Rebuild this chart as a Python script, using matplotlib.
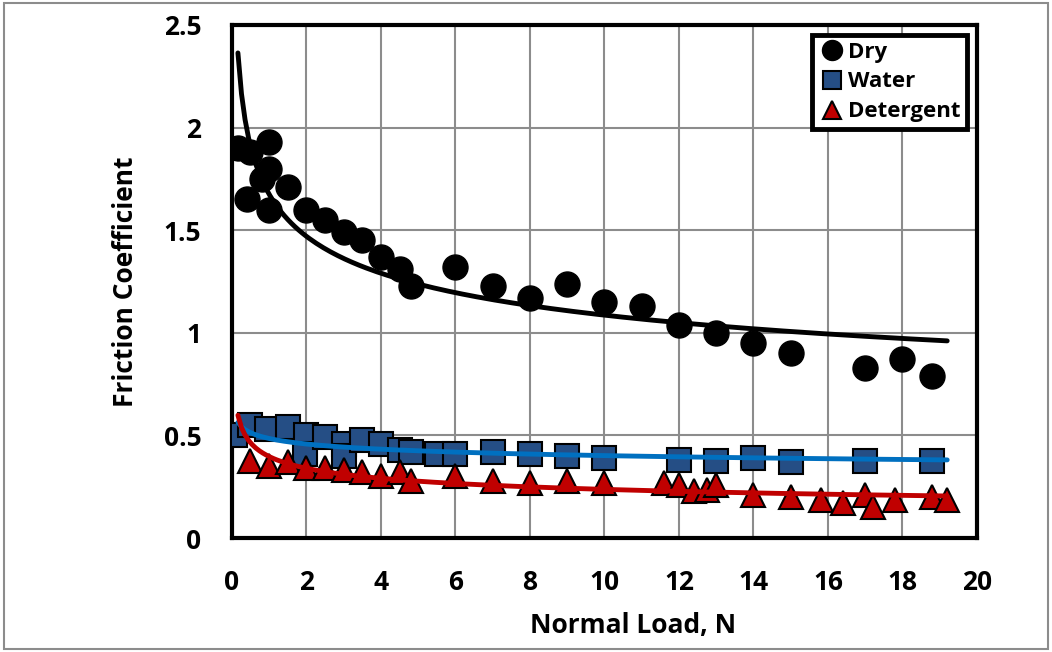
import numpy as np
import matplotlib.pyplot as plt
from matplotlib.patches import Rectangle

plt.rcParams['font.family'] = ['Open Sans', 'DejaVu Sans']
plt.rcParams['font.weight'] = 'bold'

# data
dry_x = [0.16, 0.48, 1.0, 1.0, 0.8, 0.4, 1.5, 1.0, 2.0, 2.5, 3.0, 3.5, 4.0, 4.5,
         4.8, 6, 7, 8, 9, 10, 11, 12, 13, 14, 15, 17, 18, 18.8]
dry_y = [1.90, 1.88, 1.93, 1.80, 1.75, 1.65, 1.71, 1.60, 1.60, 1.55, 1.49, 1.45,
         1.37, 1.31, 1.23, 1.32, 1.23, 1.17, 1.24, 1.15, 1.13, 1.04, 1.00, 0.95,
         0.90, 0.83, 0.87, 0.79]

water_x = [0.08, 0.48, 0.94, 1.5, 2.0, 1.96, 2.5, 3.0, 3.0, 3.5, 4.0, 4.5, 4.8,
           5.5, 6.0, 7, 8, 9, 10, 12, 13, 14, 15, 17, 18.8]
water_y = [0.50, 0.55, 0.53, 0.54, 0.50, 0.41, 0.49, 0.46, 0.40, 0.48, 0.46, 0.43,
           0.42, 0.41, 0.41, 0.42, 0.41, 0.40, 0.39, 0.38, 0.375, 0.39, 0.37,
           0.375, 0.375]

det_x = [0.48, 1.0, 1.5, 2.0, 2.5, 3.0, 3.5, 4.0, 4.5, 4.8, 6, 7, 8, 9, 10, 11.6,
         12.0, 12.4, 12.75, 13.0, 14, 15, 15.8, 16.4, 17.0, 17.2, 17.8, 18.8, 19.2]
det_y = [0.375, 0.35, 0.37, 0.34, 0.34, 0.33, 0.32, 0.30, 0.32, 0.28, 0.30, 0.28,
         0.27, 0.28, 0.27, 0.27, 0.26, 0.23, 0.235, 0.26, 0.21, 0.20, 0.185, 0.17,
         0.21, 0.15, 0.185, 0.20, 0.185]


def power_fit(x, y, xs):
    # same as an Excel power trendline: linear fit in log-log space
    b, ln_a = np.polyfit(np.log(x), np.log(y), 1)
    return np.exp(ln_a) * xs ** b


fig = plt.figure(figsize=(10.52, 6.52), dpi=100)
ax = fig.add_axes([0.2205, 0.1748, 0.7082, 0.787])

ax.plot(dry_x, dry_y, 'o', ms=18, color='black', mec='black', label='Dry', zorder=3)
ax.plot(water_x, water_y, 's', ms=17, color='#254e85', mec='black', mew=1.5,
        label='Water', zorder=3)
ax.plot(det_x, det_y, '^', ms=17, color='#c00000', mec='black', mew=1.5,
        label='Detergent', zorder=4)

xs = np.linspace(min(dry_x), max(det_x), 200)
ax.plot(xs, power_fit(dry_x, dry_y, xs), color='black', lw=3.5, zorder=5,
        solid_capstyle='round')
ax.plot(xs, power_fit(water_x, water_y, xs), color='#0070c0', lw=3.5, zorder=5,
        solid_capstyle='round')
ax.plot(xs, power_fit(det_x, det_y, xs), color='#c00000', lw=3.5, zorder=5,
        solid_capstyle='round')

ax.set_xlim(0, 20)
ax.set_ylim(0, 2.5)
ax.set_xticks(np.arange(0, 21, 2))
ax.set_yticks([0, 0.5, 1, 1.5, 2, 2.5])
ax.set_yticklabels(['0', '0.5', '1', '1.5', '2', '2.5'])
ax.tick_params(length=0, labelsize=19, pad=22)
ax.grid(True, color='#8c8c8c', lw=1.5)
ax.set_axisbelow(True)
for s in ax.spines.values():
    s.set_linewidth(3)
    s.set_color('black')

ax.set_xlabel('Normal Load, N', fontsize=19, fontweight='bold', labelpad=16)
ax.xaxis.set_label_coords(0.538, -0.145)
ax.set_ylabel('Friction Coefficient', fontsize=19, fontweight='bold', labelpad=18)

leg = ax.legend(loc='upper right', fontsize=16, frameon=True, fancybox=False,
                framealpha=1, borderaxespad=0.45, handletextpad=0.1,
                labelspacing=0.4, borderpad=0.3, handlelength=1.2, markerscale=0.8)
leg.get_frame().set_edgecolor('black')
leg.get_frame().set_linewidth(3.5)
for t in leg.get_texts():
    t.set_fontweight('bold')

fig.patches.append(Rectangle((0.004, 0.005), 0.992, 0.99, transform=fig.transFigure,
                             fill=False, edgecolor='#8c8c8c', lw=1.5))

plt.savefig('out.png', dpi=100)
